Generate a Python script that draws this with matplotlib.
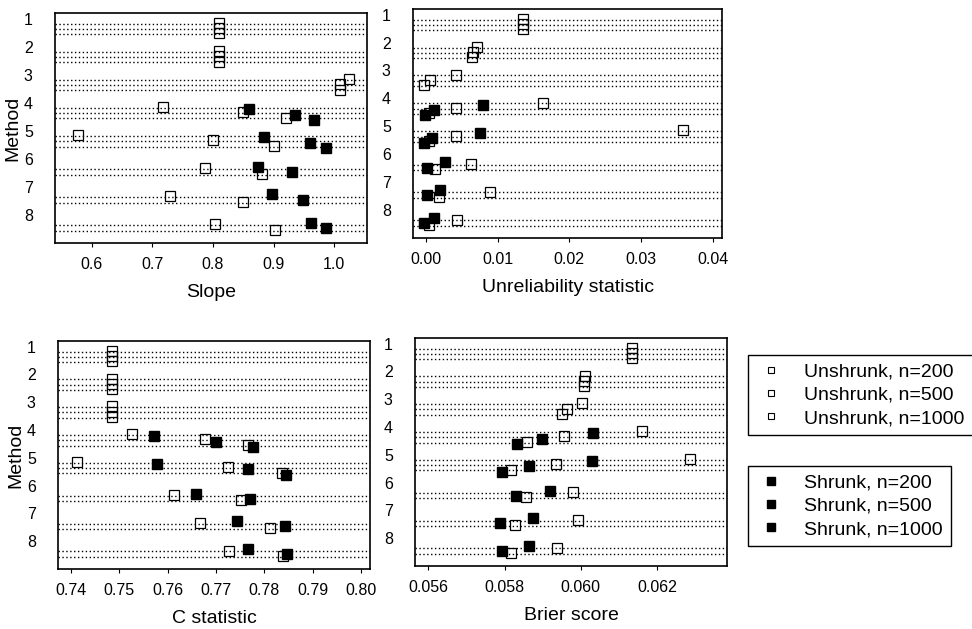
import numpy as np
import matplotlib
matplotlib.use('Agg')
import matplotlib.pyplot as plt
from matplotlib.lines import Line2D

plt.rcParams['font.family'] = ['Liberation Sans', 'DejaVu Sans']

nan = np.nan
methods = [1, 2, 3, 4, 5, 6, 7, 8]
sample_sizes = ['200', '500', '1000']

# rows: n=200, n=500, n=1000 for each method (methods 6-8 have no n=200 row)
slope_unshrunk = [
    [0.81, 0.81, 0.81],
    [0.81, 0.81, 0.81],
    [1.025, 1.01, 1.01],
    [0.718, 0.85, 0.92],
    [0.577, 0.80, 0.90],
    [nan, 0.787, 0.881],
    [nan, 0.729, 0.850],
    [nan, 0.803, 0.902],
]
slope_shrunk = [
    [nan, nan, nan],
    [nan, nan, nan],
    [nan, nan, nan],
    [0.86, 0.936, 0.966],
    [0.884, 0.96, 0.986],
    [nan, 0.875, 0.931],
    [nan, 0.898, 0.948],
    [nan, 0.962, 0.987],
]

unrel_unshrunk = [
    [0.0136, 0.0136, 0.0136],
    [0.0071, 0.0066, 0.0064],
    [0.0042, 0.0006, -0.0003],
    [0.0163, 0.0042, 0.0004],
    [0.0359, 0.0042, 0.0004],
    [nan, 0.0063, 0.0013],
    [nan, 0.0090, 0.0018],
    [nan, 0.0043, 0.0005],
]
unrel_shrunk = [
    [nan, nan, nan],
    [nan, nan, nan],
    [nan, nan, nan],
    [0.0080, 0.0011, -0.0001],
    [0.0076, 0.0009, -0.0003],
    [nan, 0.0026, 0.0002],
    [nan, 0.0020, 0.0001],
    [nan, 0.0011, -0.0002],
]

cstat_unshrunk = [
    [0.7484, 0.7484, 0.7484],
    [0.7484, 0.7484, 0.7484],
    [0.7484, 0.7484, 0.7484],
    [0.7526, 0.7677, 0.7766],
    [0.7413, 0.7726, 0.7836],
    [nan, 0.7613, 0.7752],
    [nan, 0.7666, 0.7812],
    [nan, 0.7728, 0.7839],
]
cstat_shrunk = [
    [nan, nan, nan],
    [nan, nan, nan],
    [nan, nan, nan],
    [0.7572, 0.7700, 0.7777],
    [0.7579, 0.7766, 0.7845],
    [nan, 0.7659, 0.7770],
    [nan, 0.7744, 0.7843],
    [nan, 0.7767, 0.7848],
]

brier_unshrunk = [
    [0.06134, 0.06134, 0.06134],
    [0.06011, 0.06009, 0.06009],
    [0.06003, 0.05963, 0.05950],
    [0.06160, 0.05957, 0.05858],
    [0.06287, 0.05935, 0.05816],
    [nan, 0.05979, 0.05856],
    [nan, 0.05994, 0.05828],
    [nan, 0.05937, 0.05816],
]
brier_shrunk = [
    [nan, nan, nan],
    [nan, nan, nan],
    [nan, nan, nan],
    [0.06033, 0.05898, 0.05834],
    [0.06029, 0.05863, 0.05793],
    [nan, 0.05919, 0.05830],
    [nan, 0.05876, 0.05788],
    [nan, 0.05864, 0.05794],
]

row_offset = [0.18, 0.37, 0.56]
shrunk_shift = [0, 0, 0, 0.05, 0.05, -0.08, -0.1, -0.1]

W, H = 972, 629
fig = plt.figure(figsize=(W / 100, H / 100), dpi=100)


def px_axes(l, t, r, b):
    return fig.add_axes([l / W, (H - b) / H, (r - l) / W, (b - t) / H])


panels = [
    ('Slope', slope_unshrunk, slope_shrunk, (55, 13, 367, 243),
     (0.5395, 1.054), [0.6, 0.7, 0.8, 0.9, 1.0], '{:.1f}'),
    ('Unreliability statistic', unrel_unshrunk, unrel_shrunk, (413, 9, 722, 238),
     (-0.0018, 0.0413), [0.0, 0.01, 0.02, 0.03, 0.04], '{:.2f}'),
    ('C statistic', cstat_unshrunk, cstat_shrunk, (58, 341, 370, 569),
     (0.7373, 0.8019), [0.74, 0.75, 0.76, 0.77, 0.78, 0.79, 0.80], '{:.2f}'),
    ('Brier score', brier_unshrunk, brier_shrunk, (415, 338, 727, 566),
     (0.05565, 0.06384), [0.056, 0.058, 0.060, 0.062], '{:.3f}'),
]

for idx, (label, unsh, shr, rect, xlim, xticks, fmt) in enumerate(panels):
    ax = px_axes(*rect)
    for m in range(len(methods)):
        for k in range(len(sample_sizes)):
            u = unsh[m][k]
            if np.isnan(u):
                continue
            y = methods[m] + row_offset[k]
            ax.axhline(y, ls=(0, (1, 1.8)), lw=1.0, color='black', zorder=1)
            ax.plot(u, y - 0.03, 's', ms=7, mfc='none', mec='black', mew=0.9, zorder=3)
            s = shr[m][k]
            if not np.isnan(s):
                ax.plot(s, y + shrunk_shift[m], 's', ms=7.5, mfc='black', mec='black', zorder=4)
    ax.set_xlim(*xlim)
    ax.set_ylim(9.0, 0.8)
    ax.set_xticks(xticks)
    ax.set_xticklabels([fmt.format(v) for v in xticks], fontsize=11.5)
    ax.set_yticks(methods)
    ax.set_yticklabels([str(m) for m in methods], fontsize=11.5)
    ax.tick_params(axis='y', length=0, pad=16)
    ax.tick_params(axis='x', length=3, width=0.8, pad=7)
    ax.set_xlabel(label, fontsize=14, labelpad=9)
    if idx % 2 == 0:
        ax.set_ylabel('Method', fontsize=14, labelpad=2)
    for sp in ax.spines.values():
        sp.set_linewidth(1.2)

unshrunk_handles = [Line2D([], [], ls='none', marker='s', ms=5, mfc='none', mec='black', mew=0.8)
                    for _ in sample_sizes]
shrunk_handles = [Line2D([], [], ls='none', marker='s', ms=5.5, mfc='black', mec='black')
                  for _ in sample_sizes]

leg_kw = dict(loc='upper left', fontsize=14, frameon=True, fancybox=False, framealpha=1,
              edgecolor='black', borderaxespad=0, labelspacing=0.3, handletextpad=0.9,
              borderpad=0.4, handlelength=1.6)
leg1 = fig.legend(unshrunk_handles, ['Unshrunk, n=' + n for n in sample_sizes],
                  bbox_to_anchor=(748 / W, 1 - 355 / H), **leg_kw)
leg1.get_frame().set_linewidth(1.0)
leg2 = fig.legend(shrunk_handles, ['Shrunk, n=' + n for n in sample_sizes],
                  bbox_to_anchor=(748 / W, 1 - 466 / H), **leg_kw)
leg2.get_frame().set_linewidth(1.0)

fig.savefig('out.png', dpi=100)
